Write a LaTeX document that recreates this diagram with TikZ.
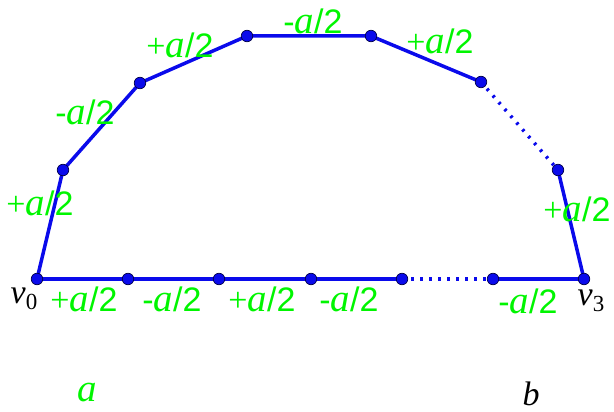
\documentclass[tikz,border=0pt]{standalone}
\usepackage{fontspec}
\setmainfont{Liberation Sans}
\newfontfamily\tms{Liberation Serif}
\definecolor{lgreen}{RGB}{0,245,0}
\definecolor{lblue}{RGB}{10,10,235}
\newcommand\av{{\tms\itshape\fontsize{39}{39}\selectfont a}}
\newcommand\plab{{\tms +}\av/2}
\newcommand\mlab{-\av/2}
\newcommand\vsub[1]{{\tms\itshape v}{\tms\fontsize{23}{23}\selectfont\raisebox{-6pt}{#1}}}
\begin{document}
\begin{tikzpicture}[x=1pt,y=-1pt,
  edge/.style={lblue,line width=3.5pt},
  dotedge/.style={lblue,line width=3.5pt,dash pattern=on 2.5pt off 6.5pt},
  pt/.style={circle,fill=lblue,draw=black!70!blue,line width=0.7pt,inner sep=0pt,minimum size=11.5pt},
  gl/.style={lgreen,font=\fontsize{34}{34}\selectfont,inner sep=0pt},
  bl/.style={black,font=\fontsize{34}{34}\selectfont,inner sep=0pt}]
\useasboundingbox (0,0) rectangle (614,412);
% points
\coordinate (v0) at (37,279);
\coordinate (b1) at (128,279);
\coordinate (b2) at (219,279);
\coordinate (b3) at (311,279);
\coordinate (b4) at (402,279);
\coordinate (b5) at (493,279);
\coordinate (v3) at (584,279);
\coordinate (u1) at (63,170);
\coordinate (u2) at (140,83);
\coordinate (u3) at (247,36);
\coordinate (u4) at (371,36);
\coordinate (u5) at (481,82);
\coordinate (u6) at (558,170);
% edges
\draw[edge] (v0) -- (b1) -- (b2) -- (b3) -- (b4);
\draw[dotedge] (b4) -- (b5);
\draw[edge] (b5) -- (v3);
\draw[edge] (v0) -- (u1) -- (u2) -- (u3) -- (u4) -- (u5);
\draw[dotedge] (u5) -- (u6);
\draw[edge] (u6) -- (v3);
\foreach \p in {v0,b1,b2,b3,b4,b5,v3,u1,u2,u3,u4,u5,u6}
  \node[pt] (n\p) at (\p) {};
% labels
\node[gl] (l1) at (40,203) {\plab};
\node[gl] (l2) at (85,112) {\mlab};
\node[gl] (l3) at (180,45) {\plab};
\node[gl] (l4) at (313,21) {\mlab};
\node[gl] (l5) at (440,41) {\plab};
\node[gl] (l6) at (577,209) {\plab};
\node[gl] (l7) at (84,299) {\plab};
\node[gl] (l8) at (172,299) {\mlab};
\node[gl] (l9) at (262,299) {\plab};
\node[gl] (l10) at (349,299) {\mlab};
\node[gl] (l11) at (528,301) {\mlab};
\node[bl] (tv0) at (24,299) {\vsub{0}};
\node[bl] (tv3) at (591,301) {\vsub{3}};
\node[gl] (ta) at (87,393) {\av};
\node[bl] (tb) at (531,394) {\tms\itshape b};
\end{tikzpicture}
\end{document}
